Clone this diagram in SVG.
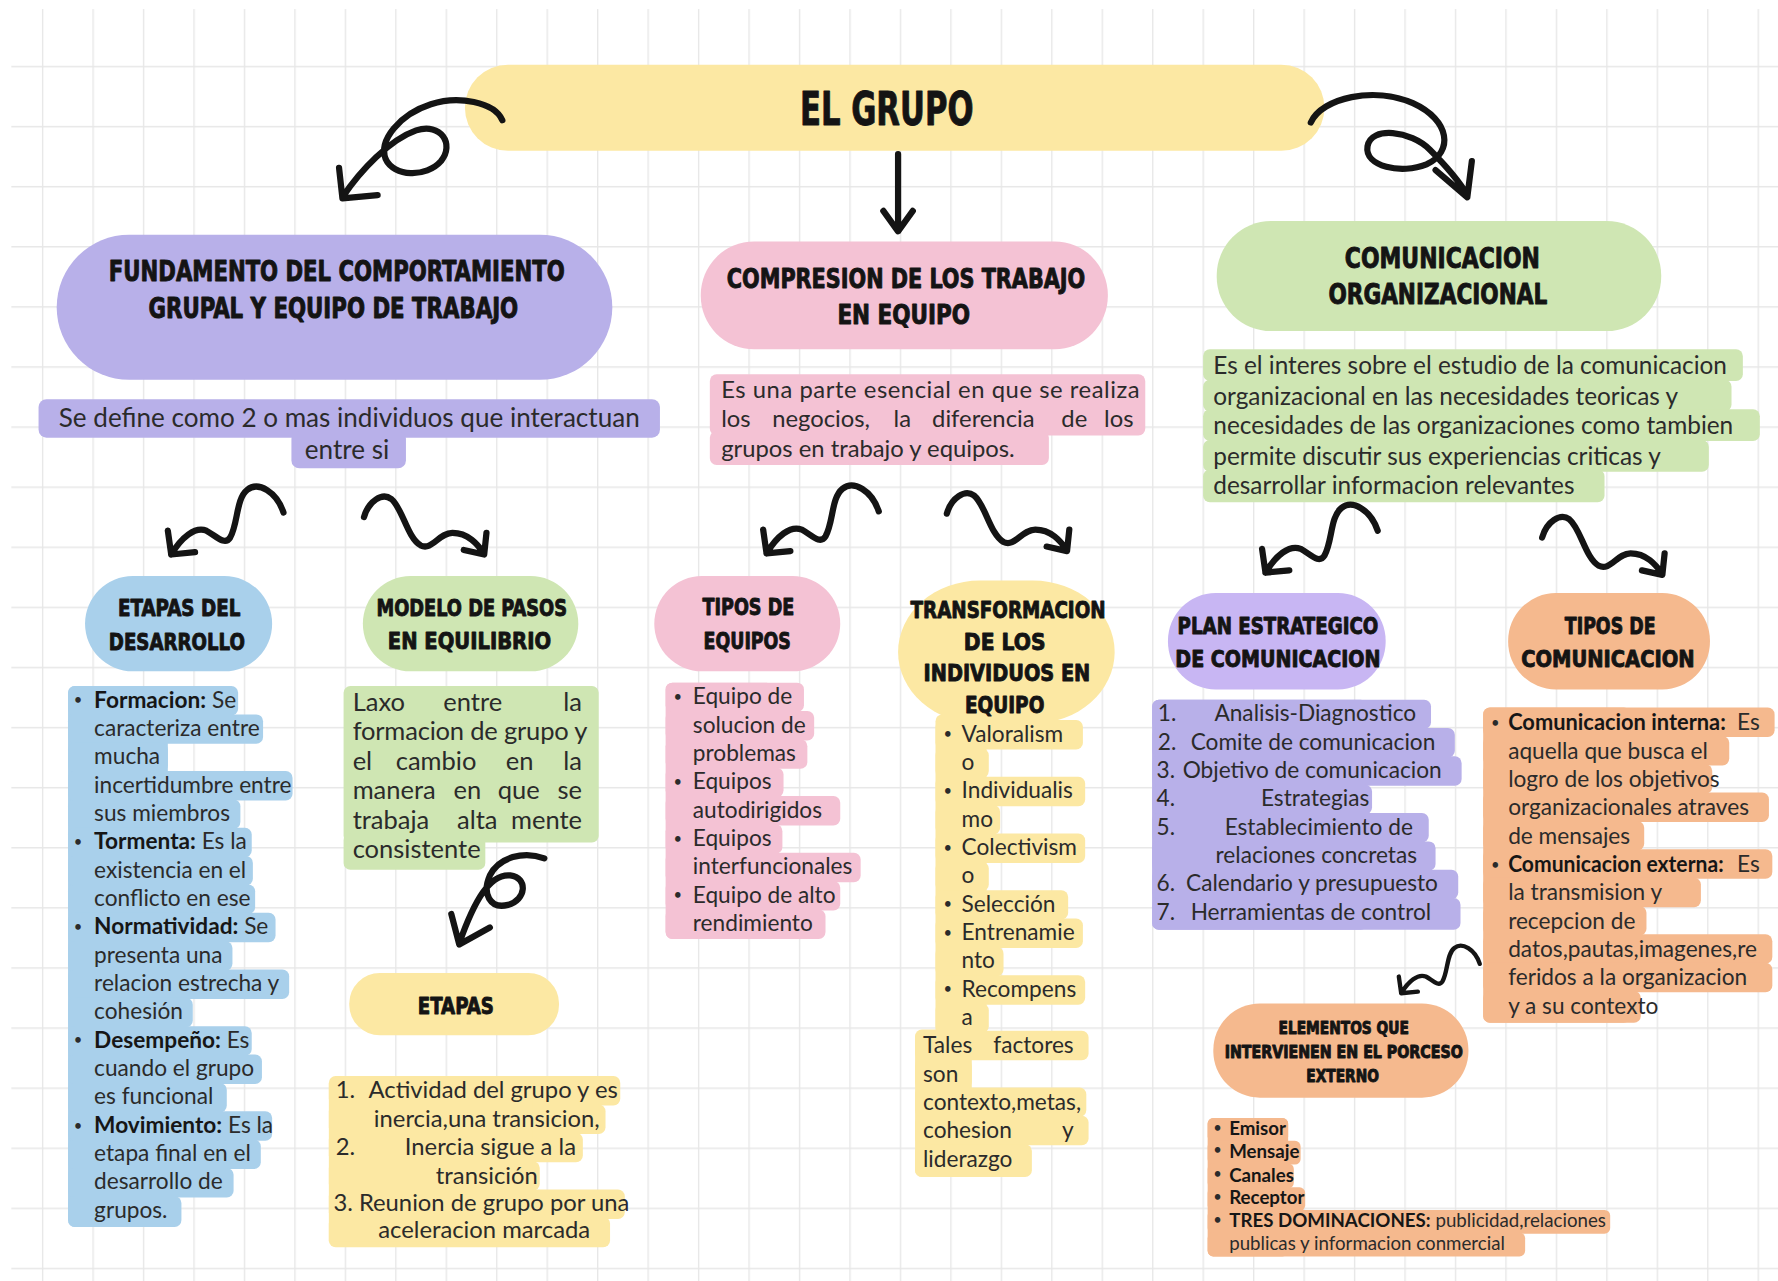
<svg xmlns="http://www.w3.org/2000/svg" xmlns:xlink="http://www.w3.org/1999/xlink" width="1778" height="1281" viewBox="0 0 1778 1281">
<defs>
<style>
.h{font-family:"DejaVu Sans Condensed","Liberation Sans Narrow","DejaVu Sans",sans-serif;font-weight:700;fill:#141414;stroke:#141414;stroke-width:0.8;stroke-linejoin:round;text-anchor:middle}
.t{font-family:Lato,"Noto Sans","Liberation Sans",sans-serif;fill:#2b2b2b}
.k{font-weight:700;fill:#161616}
.d{font-size:13px}
.e{text-anchor:end}
.m{text-anchor:middle}
.cn{fill:none;stroke:#141414;stroke-width:5.5;stroke-linecap:round;stroke-linejoin:round}
.yel{fill:#fce8a3}
.lav{fill:#b8b0e9}
.pnk{fill:#f4c2d4}
.grn{fill:#cfe6b3}
.blu{fill:#a9d0eb}
.org{fill:#f5b98e}
.vio{fill:#c8b6f3}
</style>
<pattern id="grid" patternUnits="userSpaceOnUse" x="37" y="5" width="44.5" height="53">
<path d="M0,0.6 H44.5 M0.6,0 V53" fill="none" stroke="#e7e7e7" stroke-width="1.2"/>
</pattern>
<path id="sqL" d="M0,0 C-6,-18 -22,-28 -32,-20 C-42,-12 -40,10 -47,22 C-52,30 -60,20 -68,16 C-78,12 -90,22 -99,37 M-102,16 L-99,37 L-78,35" fill="none" stroke="#141414" stroke-width="5.5" stroke-linecap="round" stroke-linejoin="round"/>
<path id="sqR" d="M0,0 C4,-14 16,-22 24,-16 C34,-8 38,18 50,25 C60,30 66,14 78,14 C92,14 100,24 106,32 M88,29 L106,33 L108,14" fill="none" stroke="#141414" stroke-width="5.5" stroke-linecap="round" stroke-linejoin="round"/>
</defs>
<rect width="1778" height="1281" fill="#ffffff"/>
<g transform="scale(1.13393)">
<rect x="10" y="8" width="1558" height="1122" fill="url(#grid)"/>

<g id="n-el-grupo">
<rect class="yel" x="410" y="57" width="758" height="76" rx="38"/>
<text class="h" x="782" y="110" font-size="40" textLength="153" lengthAdjust="spacingAndGlyphs">EL GRUPO</text>
</g>

<g id="n-fundamento">
<rect class="lav" x="50" y="207" width="490" height="128" rx="64"/>
<text class="h" x="297" y="248" font-size="25" textLength="402" lengthAdjust="spacingAndGlyphs">FUNDAMENTO DEL COMPORTAMIENTO</text>
<text class="h" x="294" y="280" font-size="25" textLength="326" lengthAdjust="spacingAndGlyphs">GRUPAL Y EQUIPO DE TRABAJO</text>
</g>

<g id="n-define">
<rect class="lav" x="34" y="352" width="548" height="34" rx="7"/>
<rect class="lav" x="257" y="380" width="101" height="33" rx="7"/>
<text class="t" font-size="23"><tspan class="m" x="308" y="377">Se define como 2 o mas individuos que interactuan</tspan><tspan class="m" x="306" y="405">entre si</tspan></text>
</g>

<g id="n-compresion">
<rect class="pnk" x="618" y="213" width="359" height="95" rx="47"/>
<text class="h" x="799" y="254" font-size="24" textLength="316" lengthAdjust="spacingAndGlyphs">COMPRESION DE LOS TRABAJO</text>
<text class="h" x="797" y="286" font-size="24" textLength="117" lengthAdjust="spacingAndGlyphs">EN EQUIPO</text>
</g>

<g id="n-compresion-texto">
<rect class="pnk" x="626" y="330" width="384" height="54" rx="6"/>
<rect class="pnk" x="626" y="380" width="299" height="30" rx="6"/>
<text class="t" font-size="21">
<tspan x="636" y="351" textLength="369" lengthAdjust="spacing">Es una parte esencial en que se realiza</tspan>
<tspan x="636" y="377">los </tspan><tspan x="681" y="377">negocios, </tspan><tspan x="788" y="377">la </tspan><tspan x="822" y="377">diferencia </tspan><tspan x="936" y="377">de </tspan><tspan class="e" x="1005" y="377">los</tspan>
<tspan x="636" y="403">grupos en trabajo y equipos.</tspan>
</text>
</g>

<g id="n-comunicacion">
<rect class="grn" x="1073" y="195" width="392" height="97" rx="48"/>
<text class="h" x="1272" y="236" font-size="25" textLength="172" lengthAdjust="spacingAndGlyphs">COMUNICACION</text>
<text class="h" x="1268" y="268" font-size="25" textLength="193" lengthAdjust="spacingAndGlyphs">ORGANIZACIONAL</text>
</g>

<g id="n-comunicacion-texto">
<rect class="grn" x="1061" y="308" width="476" height="28" rx="6"/>
<rect class="grn" x="1061" y="335" width="466" height="28" rx="6"/>
<rect class="grn" x="1061" y="361" width="491" height="28" rx="6"/>
<rect class="grn" x="1061" y="388" width="446" height="28" rx="6"/>
<rect class="grn" x="1061" y="414" width="354" height="29" rx="6"/>
<text class="t" font-size="21.5">
<tspan x="1070" y="330">Es el interes sobre el estudio de la comunicacion</tspan>
<tspan x="1070" y="357">organizacional en las necesidades teoricas y</tspan>
<tspan x="1070" y="383">necesidades de las organizaciones como tambien</tspan>
<tspan x="1070" y="410">permite discutir sus experiencias criticas y</tspan>
<tspan x="1070" y="436">desarrollar informacion relevantes</tspan>
</text>
</g>

<g id="n-etapas-desarrollo">
<rect class="blu" x="75" y="508" width="165" height="84" rx="42"/>
<text class="h" x="158" y="543" font-size="21" textLength="108" lengthAdjust="spacingAndGlyphs">ETAPAS DEL</text>
<text class="h" x="156" y="573" font-size="21" textLength="120" lengthAdjust="spacingAndGlyphs">DESARROLLO</text>
</g>

<g id="n-etapas-desarrollo-lista">
<rect class="blu" x="60" y="605" width="88" height="477" rx="6"/>
<rect class="blu" x="60" y="605" width="150" height="26" rx="6"/>
<rect class="blu" x="60" y="630" width="172" height="26" rx="6"/>
<rect class="blu" x="60" y="655" width="88" height="26" rx="6"/>
<rect class="blu" x="60" y="680" width="198" height="26" rx="6"/>
<rect class="blu" x="60" y="705" width="152" height="26" rx="6"/>
<rect class="blu" x="60" y="730" width="162" height="26" rx="6"/>
<rect class="blu" x="60" y="755" width="163" height="26" rx="6"/>
<rect class="blu" x="60" y="780" width="165" height="26" rx="6"/>
<rect class="blu" x="60" y="805" width="183" height="26" rx="6"/>
<rect class="blu" x="60" y="830" width="145" height="26" rx="6"/>
<rect class="blu" x="60" y="855" width="195" height="26" rx="6"/>
<rect class="blu" x="60" y="880" width="110" height="26" rx="6"/>
<rect class="blu" x="60" y="905" width="162" height="26" rx="6"/>
<rect class="blu" x="60" y="930" width="171" height="26" rx="6"/>
<rect class="blu" x="60" y="955" width="140" height="26" rx="6"/>
<rect class="blu" x="60" y="980" width="180" height="26" rx="6"/>
<rect class="blu" x="60" y="1005" width="170" height="26" rx="6"/>
<rect class="blu" x="60" y="1030" width="146" height="26" rx="6"/>
<rect class="blu" x="60" y="1055" width="100" height="27" rx="6"/>
<text class="t" font-size="20">
<tspan class="d" x="65" y="622">•</tspan><tspan class="k" x="83" y="624">Formacion:</tspan><tspan> Se</tspan>
<tspan x="83" y="649">caracteriza entre</tspan>
<tspan x="83" y="674">mucha</tspan>
<tspan x="83" y="699">incertidumbre entre</tspan>
<tspan x="83" y="724">sus miembros</tspan>
<tspan class="d" x="65" y="747">•</tspan><tspan class="k" x="83" y="749">Tormenta:</tspan><tspan> Es la</tspan>
<tspan x="83" y="774">existencia en el</tspan>
<tspan x="83" y="799">conflicto en ese</tspan>
<tspan class="d" x="65" y="822">•</tspan><tspan class="k" x="83" y="824">Normatividad:</tspan><tspan> Se</tspan>
<tspan x="83" y="849">presenta una</tspan>
<tspan x="83" y="874">relacion estrecha y</tspan>
<tspan x="83" y="899">cohesión</tspan>
<tspan class="d" x="65" y="922">•</tspan><tspan class="k" x="83" y="924">Desempeño:</tspan><tspan> Es</tspan>
<tspan x="83" y="949">cuando el grupo</tspan>
<tspan x="83" y="974">es funcional</tspan>
<tspan class="d" x="65" y="997">•</tspan><tspan class="k" x="83" y="999">Movimiento:</tspan><tspan> Es la</tspan>
<tspan x="83" y="1024">etapa final en el</tspan>
<tspan x="83" y="1049">desarrollo de</tspan>
<tspan x="83" y="1074">grupos.</tspan>
</text>
</g>

<g id="n-modelo">
<rect class="grn" x="320" y="508" width="190" height="84" rx="42"/>
<text class="h" x="416" y="543" font-size="21" textLength="168" lengthAdjust="spacingAndGlyphs">MODELO DE PASOS</text>
<text class="h" x="414" y="572" font-size="21" textLength="144" lengthAdjust="spacingAndGlyphs">EN EQUILIBRIO</text>
</g>

<g id="n-modelo-texto">
<rect class="grn" x="303" y="605" width="225" height="138" rx="6"/>
<rect class="grn" x="303" y="735" width="125" height="32" rx="6"/>
<text class="t" font-size="22.5">
<tspan x="311" y="627">Laxo </tspan><tspan x="391" y="627">entre </tspan><tspan class="e" x="519" y="627">la</tspan>
<tspan x="311" y="653" textLength="207" lengthAdjust="spacing">formacion de grupo y</tspan>
<tspan x="311" y="679">el </tspan><tspan x="349" y="679">cambio </tspan><tspan x="446" y="679">en </tspan><tspan class="e" x="519" y="679">la</tspan>
<tspan x="311" y="705">manera </tspan><tspan x="400" y="705">en </tspan><tspan x="439" y="705">que </tspan><tspan class="e" x="519" y="705">se</tspan>
<tspan x="311" y="731">trabaja </tspan><tspan x="403" y="731">alta </tspan><tspan class="e" x="519" y="731">mente</tspan>
<tspan x="311" y="757">consistente</tspan>
</text>
</g>

<g id="n-etapas">
<rect class="yel" x="308" y="858" width="185" height="55" rx="27"/>
<text class="h" x="402" y="894" font-size="21" textLength="67" lengthAdjust="spacingAndGlyphs">ETAPAS</text>
</g>

<g id="n-etapas-lista">
<rect class="yel" x="290" y="949" width="257" height="26" rx="6"/>
<rect class="yel" x="290" y="974" width="244" height="26" rx="6"/>
<rect class="yel" x="290" y="999" width="224" height="26" rx="6"/>
<rect class="yel" x="290" y="1024" width="186" height="26" rx="6"/>
<rect class="yel" x="290" y="1049" width="261" height="26" rx="6"/>
<rect class="yel" x="290" y="1073" width="248" height="27" rx="6"/>
<rect class="yel" x="290" y="955" width="180" height="140"/>
<text class="t" font-size="21">
<tspan x="296" y="968">1.</tspan><tspan x="325" y="968">Actividad del grupo y es</tspan>
<tspan class="m" x="432" y="994">inercia,una transicion,</tspan>
<tspan x="296" y="1019">2.</tspan><tspan x="357" y="1019">Inercia sigue a la</tspan>
<tspan class="m" x="432" y="1044">transición</tspan>
<tspan x="294" y="1068">3. Reunion de grupo por una</tspan>
<tspan class="m" x="427" y="1092">aceleracion marcada</tspan>
</text>
</g>

<g id="n-tipos-equipos">
<rect class="pnk" x="577" y="508" width="164" height="84" rx="42"/>
<text class="h" x="660" y="542" font-size="21" textLength="81" lengthAdjust="spacingAndGlyphs">TIPOS DE</text>
<text class="h" x="659" y="572" font-size="21" textLength="77" lengthAdjust="spacingAndGlyphs">EQUIPOS</text>
</g>

<g id="n-tipos-equipos-lista">
<rect class="pnk" x="587" y="602" width="95" height="226" rx="6"/>
<rect class="pnk" x="587" y="602" width="122" height="26" rx="6"/>
<rect class="pnk" x="587" y="627" width="131" height="26" rx="6"/>
<rect class="pnk" x="587" y="652" width="125" height="26" rx="6"/>
<rect class="pnk" x="587" y="677" width="104" height="26" rx="6"/>
<rect class="pnk" x="587" y="702" width="154" height="26" rx="6"/>
<rect class="pnk" x="587" y="727" width="103" height="26" rx="6"/>
<rect class="pnk" x="587" y="752" width="172" height="26" rx="6"/>
<rect class="pnk" x="587" y="777" width="154" height="26" rx="6"/>
<rect class="pnk" x="587" y="802" width="141" height="26" rx="6"/>
<text class="t" font-size="20">
<tspan class="d" x="594" y="619">•</tspan><tspan x="611" y="621">Equipo de</tspan>
<tspan x="611" y="646">solucion de</tspan>
<tspan x="611" y="671">problemas</tspan>
<tspan class="d" x="594" y="694">•</tspan><tspan x="611" y="696">Equipos</tspan>
<tspan x="611" y="721">autodirigidos</tspan>
<tspan class="d" x="594" y="744">•</tspan><tspan x="611" y="746">Equipos</tspan>
<tspan x="611" y="771">interfuncionales</tspan>
<tspan class="d" x="594" y="794">•</tspan><tspan x="611" y="796">Equipo de alto</tspan>
<tspan x="611" y="821">rendimiento</tspan>
</text>
</g>

<g id="n-transformacion">
<rect class="yel" x="792" y="512" width="191" height="126" rx="72"/>
<rect class="yel" x="825" y="630" width="45" height="290" rx="6"/>
<rect class="yel" x="825" y="635" width="130" height="26" rx="6"/>
<rect class="yel" x="825" y="660" width="47" height="26" rx="6"/>
<rect class="yel" x="825" y="685" width="132" height="26" rx="6"/>
<rect class="yel" x="825" y="710" width="57" height="26" rx="6"/>
<rect class="yel" x="825" y="735" width="132" height="26" rx="6"/>
<rect class="yel" x="825" y="760" width="47" height="26" rx="6"/>
<rect class="yel" x="825" y="785" width="117" height="26" rx="6"/>
<rect class="yel" x="825" y="810" width="130" height="26" rx="6"/>
<rect class="yel" x="825" y="835" width="60" height="26" rx="6"/>
<rect class="yel" x="825" y="860" width="132" height="26" rx="6"/>
<rect class="yel" x="825" y="885" width="47" height="26" rx="6"/>
<rect class="yel" x="807" y="908" width="50" height="130" rx="6"/>
<rect class="yel" x="807" y="909" width="153" height="26" rx="6"/>
<rect class="yel" x="807" y="934" width="50" height="26" rx="6"/>
<rect class="yel" x="807" y="959" width="151" height="26" rx="6"/>
<rect class="yel" x="807" y="984" width="153" height="26" rx="6"/>
<rect class="yel" x="807" y="1009" width="103" height="29" rx="6"/>
<text class="h" x="889" y="545" font-size="21" textLength="172" lengthAdjust="spacingAndGlyphs">TRANSFORMACION</text>
<text class="h" x="886" y="573" font-size="21" textLength="72" lengthAdjust="spacingAndGlyphs">DE LOS</text>
<text class="h" x="888" y="601" font-size="21" textLength="147" lengthAdjust="spacingAndGlyphs">INDIVIDUOS EN</text>
<text class="h" x="886" y="629" font-size="21" textLength="70" lengthAdjust="spacingAndGlyphs">EQUIPO</text>
<text class="t" font-size="20">
<tspan class="d" x="832" y="652">•</tspan><tspan x="848" y="654">Valoralism</tspan>
<tspan x="848" y="679">o</tspan>
<tspan class="d" x="832" y="702">•</tspan><tspan x="848" y="704">Individualis</tspan>
<tspan x="848" y="729">mo</tspan>
<tspan class="d" x="832" y="752">•</tspan><tspan x="848" y="754">Colectivism</tspan>
<tspan x="848" y="779">o</tspan>
<tspan class="d" x="832" y="802">•</tspan><tspan x="848" y="804">Selección</tspan>
<tspan class="d" x="832" y="827">•</tspan><tspan x="848" y="829">Entrenamie</tspan>
<tspan x="848" y="854">nto</tspan>
<tspan class="d" x="832" y="877">•</tspan><tspan x="848" y="879">Recompens</tspan>
<tspan x="848" y="904">a</tspan>
<tspan x="814" y="929">Tales </tspan><tspan class="e" x="952" y="929">factores</tspan>
<tspan x="814" y="954">son</tspan>
<tspan x="814" y="979">contexto,metas,</tspan>
<tspan x="814" y="1004">cohesion </tspan><tspan class="e" x="952" y="1004">y</tspan>
<tspan x="814" y="1029">liderazgo</tspan>
</text>
</g>

<g id="n-plan">
<rect class="vio" x="1030" y="523" width="192" height="85" rx="42"/>
<text class="h" x="1127" y="559" font-size="21" textLength="177" lengthAdjust="spacingAndGlyphs">PLAN ESTRATEGICO</text>
<text class="h" x="1127" y="588" font-size="21" textLength="181" lengthAdjust="spacingAndGlyphs">DE COMUNICACION</text>
</g>

<g id="n-plan-lista">
<rect class="lav" x="1016" y="617" width="190" height="203" rx="6"/>
<rect class="lav" x="1016" y="617" width="246" height="26" rx="6"/>
<rect class="lav" x="1016" y="642" width="267" height="26" rx="6"/>
<rect class="lav" x="1016" y="667" width="273" height="26" rx="6"/>
<rect class="lav" x="1016" y="692" width="194" height="26" rx="6"/>
<rect class="lav" x="1016" y="717" width="244" height="26" rx="6"/>
<rect class="lav" x="1016" y="742" width="250" height="26" rx="6"/>
<rect class="lav" x="1016" y="767" width="270" height="26" rx="6"/>
<rect class="lav" x="1016" y="792" width="272" height="28" rx="6"/>
<text class="t" font-size="20">
<tspan x="1021" y="636">1.</tspan><tspan x="1071" y="636">Analisis-Diagnostico</tspan>
<tspan x="1021" y="661">2.</tspan><tspan x="1050" y="661">Comite de comunicacion</tspan>
<tspan x="1020" y="686">3.</tspan><tspan x="1043" y="686">Objetivo de comunicacion</tspan>
<tspan x="1020" y="711">4.</tspan><tspan x="1112" y="711">Estrategias</tspan>
<tspan x="1020" y="736">5.</tspan><tspan x="1080" y="736">Establecimiento de</tspan>
<tspan x="1072" y="761">relaciones concretas</tspan>
<tspan x="1020" y="786">6.</tspan><tspan x="1046" y="786">Calendario y presupuesto</tspan>
<tspan x="1020" y="811">7.</tspan><tspan x="1050" y="811">Herramientas de control</tspan>
</text>
</g>

<g id="n-tipos-comunicacion">
<rect class="org" x="1330" y="523" width="178" height="85" rx="42"/>
<text class="h" x="1420" y="559" font-size="21" textLength="80" lengthAdjust="spacingAndGlyphs">TIPOS DE</text>
<text class="h" x="1418" y="588" font-size="21" textLength="153" lengthAdjust="spacingAndGlyphs">COMUNICACION</text>
</g>

<g id="n-tipos-comunicacion-lista">
<rect class="org" x="1308" y="624" width="130" height="278" rx="6"/>
<rect class="org" x="1308" y="624" width="257" height="26" rx="6"/>
<rect class="org" x="1308" y="649" width="217" height="26" rx="6"/>
<rect class="org" x="1308" y="674" width="202" height="26" rx="6"/>
<rect class="org" x="1308" y="699" width="252" height="26" rx="6"/>
<rect class="org" x="1308" y="724" width="142" height="26" rx="6"/>
<rect class="org" x="1308" y="749" width="255" height="26" rx="6"/>
<rect class="org" x="1308" y="774" width="192" height="26" rx="6"/>
<rect class="org" x="1308" y="799" width="144" height="26" rx="6"/>
<rect class="org" x="1308" y="824" width="255" height="26" rx="6"/>
<rect class="org" x="1308" y="849" width="255" height="26" rx="6"/>
<rect class="org" x="1308" y="874" width="139" height="28" rx="6"/>
<text class="t" font-size="20">
<tspan class="d" x="1315" y="642">•</tspan><tspan class="k" x="1330" y="644" textLength="192" lengthAdjust="spacingAndGlyphs">Comunicacion interna:</tspan><tspan class="e" x="1557" y="644">Es</tspan>
<tspan x="1330" y="669">aquella que busca el</tspan>
<tspan x="1330" y="694">logro de los objetivos</tspan>
<tspan x="1330" y="719">organizacionales atraves</tspan>
<tspan x="1330" y="744">de mensajes</tspan>
<tspan class="d" x="1315" y="767">•</tspan><tspan class="k" x="1330" y="769" textLength="190" lengthAdjust="spacingAndGlyphs">Comunicacion externa:</tspan><tspan class="e" x="1557" y="769">Es</tspan>
<tspan x="1330" y="794">la transmision y</tspan>
<tspan x="1330" y="819">recepcion de</tspan>
<tspan x="1330" y="844">datos,pautas,imagenes,re</tspan>
<tspan x="1330" y="869">feridos a la organizacion</tspan>
<tspan x="1330" y="894">y a su contexto</tspan>
</text>
</g>

<g id="n-elementos">
<rect class="org" x="1070" y="885" width="225" height="83" rx="41"/>
<text class="h" x="1185" y="912" font-size="15" textLength="115" lengthAdjust="spacingAndGlyphs">ELEMENTOS QUE</text>
<text class="h" x="1185" y="933" font-size="15" textLength="210" lengthAdjust="spacingAndGlyphs">INTERVIENEN EN EL PORCESO</text>
<text class="h" x="1184" y="954" font-size="15" textLength="64" lengthAdjust="spacingAndGlyphs">EXTERNO</text>
</g>

<g id="n-elementos-lista">
<rect class="org" x="1065" y="986" width="71" height="122" rx="5"/>
<rect class="org" x="1065" y="986" width="71" height="21" rx="5"/>
<rect class="org" x="1065" y="1006" width="82" height="21" rx="5"/>
<rect class="org" x="1065" y="1026" width="76" height="22" rx="5"/>
<rect class="org" x="1065" y="1047" width="86" height="21" rx="5"/>
<rect class="org" x="1065" y="1067" width="355" height="21" rx="5"/>
<rect class="org" x="1065" y="1087" width="280" height="21" rx="5"/>
<text class="t" font-size="16.5">
<tspan class="d" x="1070" y="999">•</tspan><tspan class="k" x="1084" y="1001">Emisor</tspan>
<tspan class="d" x="1070" y="1019">•</tspan><tspan class="k" x="1084" y="1021">Mensaje</tspan>
<tspan class="d" x="1070" y="1040">•</tspan><tspan class="k" x="1084" y="1042">Canales</tspan>
<tspan class="d" x="1070" y="1060">•</tspan><tspan class="k" x="1084" y="1062">Receptor</tspan>
<tspan class="d" x="1070" y="1080">•</tspan><tspan class="k" x="1084" y="1082">TRES DOMINACIONES:</tspan><tspan> publicidad,relaciones</tspan>
<tspan x="1084" y="1102">publicas y informacion conmercial</tspan>
</text>
</g>

<g id="connectors">
<path class="cn" d="M443,106 C436,90 404,84 380,92 C352,101 334,124 340,140 C347,156 376,157 389,142 C401,127 389,108 367,115 C344,123 318,150 302,174 M299,148 L302,175 L333,172"/>
<path class="cn" d="M792,136 L792,203 M779,186 L792,204 L805,186"/>
<path class="cn" d="M1156,108 C1166,86 1212,76 1246,91 C1279,106 1282,134 1258,145 C1236,154 1203,147 1206,129 C1209,111 1244,115 1261,132 C1276,147 1287,160 1294,172 M1266,150 L1294,174 L1298,142"/>
<use xlink:href="#sqL" href="#sqL" transform="translate(250,452)"/>
<use xlink:href="#sqR" href="#sqR" transform="translate(321,456)"/>
<use xlink:href="#sqL" href="#sqL" transform="translate(775,451)"/>
<use xlink:href="#sqR" href="#sqR" transform="translate(835,453)"/>
<use xlink:href="#sqL" href="#sqL" transform="translate(1215,468)"/>
<use xlink:href="#sqR" href="#sqR" transform="translate(1360,474)"/>
<use xlink:href="#sqL" href="#sqL" transform="translate(1305,850) scale(0.7)"/>
<path class="cn" d="M480,757 C462,750 440,756 432,772 C425,788 432,802 448,798 C464,794 466,774 450,772 C432,770 418,795 405,832 M398,806 L405,833 L432,818"/>
</g>
</g>
</svg>
